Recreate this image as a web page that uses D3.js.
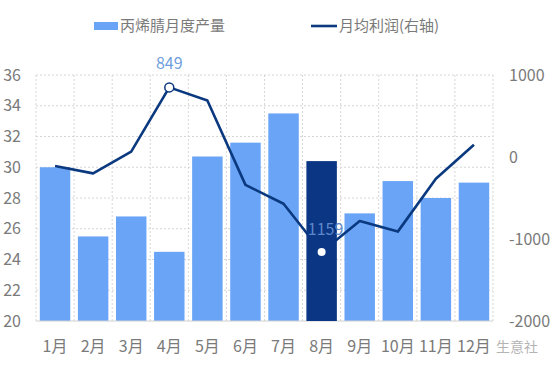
<!DOCTYPE html>
<html>
<head>
<meta charset="utf-8">
<script src="https://d3js.org/d3.v7.min.js"></script>
<style>
  body { margin: 0; background: #fff; }
  text { font-family: "Noto Sans CJK SC", "Noto Sans", sans-serif; }
</style>
</head>
<body>
<div id="chart"></div>
<script>
// chart data
var months = ["1月", "2月", "3月", "4月", "5月", "6月", "7月", "8月", "9月", "10月", "11月", "12月"];
var output = [30.0, 25.5, 26.8, 24.5, 30.7, 31.6, 33.5, 30.4, 27.0, 29.1, 28.0, 29.0];
var profit = [-110, -200, 65, 849, 690, -340, -570, -1159, -780, -910, -265, 150];
var leftTicks = [20, 22, 24, 26, 28, 30, 32, 34, 36];
var rightTicks = [-2000, -1000, 0, 1000];

var svgWidth = 554;
var svgHeight = 368;

var margin = { top: 75, right: 61, bottom: 47, left: 36 };
var chartWidth = svgWidth - margin.left - margin.right;
var chartHeight = svgHeight - margin.top - margin.bottom;

var svg = d3.select("#chart")
  .append("svg")
  .attr("width", svgWidth)
  .attr("height", svgHeight);

var chartGroup = svg.append("g")
  .attr("transform", `translate(${margin.left}, ${margin.top})`);

// scales
var xScale = d3.scaleBand()
  .domain(months)
  .range([0, chartWidth])
  .paddingInner(0.2)
  .paddingOuter(0.1);

var yLeft = d3.scaleLinear().domain([20, 36]).range([chartHeight, 0]);
var yRight = d3.scaleLinear().domain([-2000, 1000]).range([chartHeight, 0]);

// dotted grid
var gridX = d3.range(months.length + 1).map(i => i * chartWidth / months.length);
chartGroup.append("g").selectAll("line")
  .data(gridX)
  .enter()
  .append("line")
  .attr("x1", d => d).attr("x2", d => d)
  .attr("y1", 0).attr("y2", chartHeight)
  .attr("stroke", "#d6d6d6")
  .attr("stroke-dasharray", "2,2");

chartGroup.append("g").selectAll("line")
  .data(leftTicks.slice(1))
  .enter()
  .append("line")
  .attr("x1", 0).attr("x2", chartWidth)
  .attr("y1", d => yLeft(d)).attr("y2", d => yLeft(d))
  .attr("stroke", "#d6d6d6")
  .attr("stroke-dasharray", "2,2");

// bars (8月 drawn later, on top of the line)
var barData = months.map((m, i) => ({ month: m, value: output[i], profit: profit[i] }));

chartGroup.append("g").selectAll("rect")
  .data(barData.filter(d => d.month !== "8月"))
  .enter()
  .append("rect")
  .attr("x", d => xScale(d.month))
  .attr("y", d => yLeft(d.value))
  .attr("width", xScale.bandwidth())
  .attr("height", d => chartHeight - yLeft(d.value))
  .attr("fill", "#69a4f6");

// bottom axis line
chartGroup.append("line")
  .attr("x1", 0).attr("x2", chartWidth)
  .attr("y1", chartHeight).attr("y2", chartHeight)
  .attr("stroke", "#d0d0d0");

// profit line
var drawLine = d3.line()
  .x(d => xScale(d.month) + xScale.bandwidth() / 2)
  .y(d => yRight(d.profit));

chartGroup.append("path")
  .datum(barData)
  .attr("d", drawLine)
  .attr("fill", "none")
  .attr("stroke", "#0b397f")
  .attr("stroke-width", 2.6)
  .attr("stroke-linejoin", "round");

// highlighted bar
chartGroup.append("g").selectAll("rect")
  .data(barData.filter(d => d.month === "8月"))
  .enter()
  .append("rect")
  .attr("x", d => xScale(d.month))
  .attr("y", d => yLeft(d.value))
  .attr("width", xScale.bandwidth())
  .attr("height", d => chartHeight - yLeft(d.value))
  .attr("fill", "#0a3683");

// max / min markers with labels
var cx = d => xScale(d.month) + xScale.bandwidth() / 2;
var maxPoint = barData[3];
var minPoint = barData[7];

chartGroup.append("circle")
  .attr("cx", cx(maxPoint))
  .attr("cy", yRight(maxPoint.profit))
  .attr("r", 4.5)
  .attr("fill", "#fff")
  .attr("stroke", "#0b397f")
  .attr("stroke-width", 1.5);

chartGroup.append("text")
  .attr("x", cx(maxPoint))
  .attr("y", yRight(maxPoint.profit) - 18)
  .attr("text-anchor", "middle")
  .attr("font-size", 16)
  .attr("fill", "#6f9fdc")
  .text(maxPoint.profit);

chartGroup.append("circle")
  .attr("cx", cx(minPoint))
  .attr("cy", yRight(minPoint.profit))
  .attr("r", 4)
  .attr("fill", "#fff");

chartGroup.append("text")
  .attr("x", cx(minPoint) + 4)
  .attr("y", yRight(minPoint.profit) - 17)
  .attr("text-anchor", "middle")
  .attr("font-size", 16)
  .attr("fill", "#5d87c9")
  .text(Math.abs(minPoint.profit));

// axes text
var tickColor = "#7a7a7a";

chartGroup.append("g").selectAll("text")
  .data(leftTicks)
  .enter()
  .append("text")
  .attr("x", -15)
  .attr("y", d => yLeft(d))
  .attr("dy", "0.35em")
  .attr("text-anchor", "end")
  .attr("font-size", 16)
  .attr("fill", tickColor)
  .text(d => d);

chartGroup.append("g").selectAll("text")
  .data(rightTicks)
  .enter()
  .append("text")
  .attr("x", chartWidth + 16)
  .attr("y", d => yRight(d))
  .attr("dy", "0.35em")
  .attr("text-anchor", "start")
  .attr("font-size", 16)
  .attr("fill", tickColor)
  .text(d => d);

chartGroup.append("g").selectAll("text")
  .data(months)
  .enter()
  .append("text")
  .attr("x", d => xScale(d) + xScale.bandwidth() / 2)
  .attr("y", chartHeight + 31)
  .attr("text-anchor", "middle")
  .attr("font-size", 16)
  .attr("fill", tickColor)
  .text(d => d);

// watermark, the readable tail after the month labels
svg.append("text")
  .attr("x", 538)
  .attr("y", 352)
  .attr("text-anchor", "end")
  .attr("font-size", 14)
  .attr("fill", "#b4b4b4")
  .text("生意社");

// legend
var legend = svg.append("g");
legend.append("rect")
  .attr("x", 94).attr("y", 22)
  .attr("width", 24).attr("height", 8)
  .attr("fill", "#69a4f6");
legend.append("text")
  .attr("x", 120).attr("y", 26)
  .attr("dy", "0.35em")
  .attr("font-size", 15)
  .attr("fill", tickColor)
  .text("丙烯腈月度产量");
legend.append("line")
  .attr("x1", 311).attr("x2", 337)
  .attr("y1", 26).attr("y2", 26)
  .attr("stroke", "#0b397f")
  .attr("stroke-width", 2.6);
legend.append("text")
  .attr("x", 339).attr("y", 26)
  .attr("dy", "0.35em")
  .attr("font-size", 15)
  .attr("fill", tickColor)
  .text("月均利润(右轴)");
</script>
</body>
</html>
